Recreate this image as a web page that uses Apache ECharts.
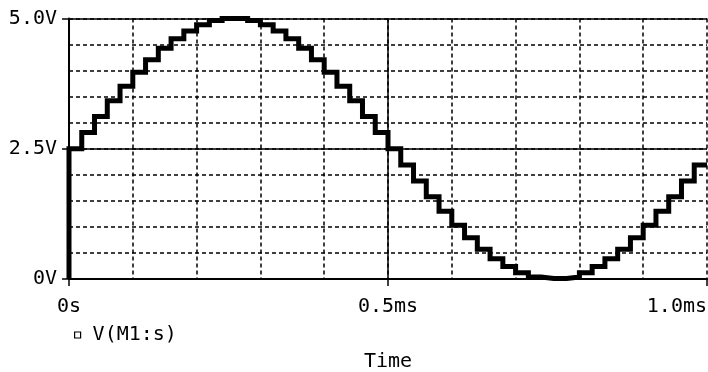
<!DOCTYPE html>
<html>
<head>
<meta charset="utf-8">
<script src="https://cdn.jsdelivr.net/npm/echarts@6/dist/echarts.min.js"></script>
<style>
html,body{margin:0;padding:0;background:#fff;}
#chart{width:708px;height:372px;}
</style>
</head>
<body>
<div id="chart"></div>
<script>
// Sample times (ms) of the stepped waveform; each level is held until the next time
var timeMs = [0, 0, 0.02, 0.04, 0.06, 0.08, 0.10, 0.12, 0.14, 0.16, 0.18,
  0.20, 0.22, 0.24, 0.26, 0.28, 0.30, 0.32, 0.34, 0.36, 0.38,
  0.40, 0.42, 0.44, 0.46, 0.48, 0.50, 0.52, 0.54, 0.56, 0.58,
  0.60, 0.62, 0.64, 0.66, 0.68, 0.70, 0.72, 0.74, 0.76, 0.78,
  0.80, 0.82, 0.84, 0.86, 0.88, 0.90, 0.92, 0.94, 0.96, 0.98, 1.00];
// V(M1:s) levels (V)
var vM1s = [0, 2.50, 2.81, 3.12, 3.42, 3.70, 3.97, 4.21, 4.43, 4.61, 4.76,
  4.88, 4.96, 5.00, 5.00, 4.96, 4.88, 4.76, 4.61, 4.43, 4.21,
  3.97, 3.70, 3.42, 3.12, 2.81, 2.50, 2.19, 1.88, 1.58, 1.30,
  1.03, 0.79, 0.57, 0.39, 0.24, 0.12, 0.04, 0.01, 0.01, 0.04,
  0.12, 0.24, 0.39, 0.57, 0.79, 1.03, 1.30, 1.58, 1.88, 2.19, 2.19];
var xTickLabels = {'0': '0s', '0.5': '0.5ms', '1': '1.0ms'};
var yTickLabels = {'0': '0V', '2.5': '2.5V', '5': '5.0V'};
var xSolidLines = [0.5];
var ySolidLines = [2.5, 5.0];
var seriesName = 'V(M1:s)';
var xTitle = 'Time';

var FONT = '"DejaVu Sans Mono", "Liberation Mono", monospace';
var pts = timeMs.map(function (t, i) { return [t, vM1s[i]]; });
var solidLines = xSolidLines.map(function (v) { return {xAxis: v}; })
  .concat(ySolidLines.map(function (v) { return {yAxis: v}; }));

var chart = echarts.init(document.getElementById('chart'), null, {renderer: 'canvas'});
chart.setOption({
  animation: false,
  backgroundColor: '#fff',
  grid: {left: 69, right: 1, top: 18.5, bottom: 93, containLabel: false, outerBoundsMode: 'none'},
  legend: {
    show: true, left: 74, top: 325, padding: 0,
    data: [{name: seriesName, icon: 'rect'}],
    itemWidth: 6, itemHeight: 6,
    itemStyle: {color: '#fff', borderColor: '#000', borderWidth: 1.2},
    textStyle: {fontFamily: FONT, fontSize: 20, color: '#000', padding: [0, 0, 0, 7]}
  },
  xAxis: [{
    type: 'value', min: 0, max: 1, interval: 0.1, position: 'bottom',
    axisLine: {show: true, onZero: false, lineStyle: {color: '#000', width: 2}},
    axisTick: {show: false}, axisLabel: {show: false},
    splitLine: {show: true, lineStyle: {color: '#000', width: 1.5, type: [4, 3]}}
  }, {
    type: 'value', min: 0, max: 1, interval: 0.5, position: 'bottom',
    axisLine: {show: false},
    axisTick: {show: true, length: 7, lineStyle: {color: '#000', width: 1.5}},
    axisLabel: {show: true, margin: 18, color: '#000', fontFamily: FONT, fontSize: 20,
      alignMaxLabel: 'right',
      formatter: function (v) { var k = String(+v.toFixed(2)); return xTickLabels[k] || ''; }},
    splitLine: {show: false},
    name: xTitle, nameLocation: 'middle', nameGap: 73,
    nameTextStyle: {fontFamily: FONT, fontSize: 20, color: '#000'}
  }],
  yAxis: [{
    type: 'value', min: 0, max: 5, interval: 0.5, position: 'left',
    axisLine: {show: true, onZero: false, lineStyle: {color: '#000', width: 2}},
    axisTick: {show: false}, axisLabel: {show: false},
    splitLine: {show: true, lineStyle: {color: '#000', width: 1.5, type: [4, 3]}}
  }, {
    type: 'value', min: 0, max: 5, interval: 2.5, position: 'left',
    axisLine: {show: false},
    axisTick: {show: true, length: 7, lineStyle: {color: '#000', width: 1.5}},
    axisLabel: {show: true, margin: 12, color: '#000', fontFamily: FONT, fontSize: 20,
      formatter: function (v) { var k = String(+v.toFixed(2)); return yTickLabels[k] || ''; }},
    splitLine: {show: false}
  }],
  series: [{
    name: seriesName, type: 'line', xAxisIndex: 0, yAxisIndex: 0,
    data: pts, step: 'end', showSymbol: false, symbol: 'none', clip: false,
    lineStyle: {color: '#000', width: 5, join: 'miter'},
    itemStyle: {color: '#fff', borderColor: '#000'},
    markLine: {
      silent: true, symbol: ['none', 'none'], label: {show: false},
      lineStyle: {color: '#000', width: 1.5, type: 'solid'},
      emphasis: {disabled: true},
      data: solidLines, z: 1
    },
    z: 5
  }]
});
</script>
</body>
</html>
